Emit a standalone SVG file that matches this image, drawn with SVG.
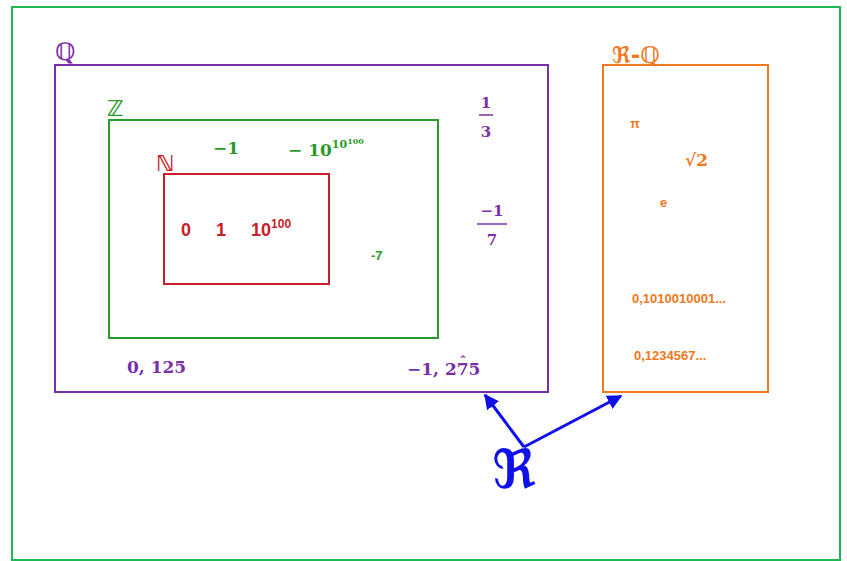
<svg xmlns="http://www.w3.org/2000/svg" width="847" height="561" viewBox="0 0 847 561">
<style>
.math{font-family:"DejaVu Serif","Liberation Serif",serif;font-weight:bold}
.sans{font-family:"Liberation Sans",Arial,sans-serif;font-weight:bold}
.ds{font-family:"DejaVu Sans","Noto Sans",sans-serif}
.purple{fill:#7a2ea8}.green{fill:#2a9a2a}.red{fill:#c8202a}.orange{fill:#f07820}
</style>
<defs>
<marker id="ah" viewBox="0 0 10 10" refX="9" refY="5" markerWidth="5" markerHeight="5" orient="auto"><path d="M0,0 L10,5 L0,10 z" fill="#1010e8"/></marker>
</defs>
<rect x="12" y="7" width="828" height="553" fill="#fff" stroke="#1db954" stroke-width="2"/>
<g id="Q">
<rect x="55" y="65" width="493" height="327" fill="none" stroke="#7a2ea8" stroke-width="2"/>
<text x="55" y="60" class="ds purple" font-size="24" font-weight="bold">ℚ</text>
<text x="486" y="108" class="math purple" font-size="15" text-anchor="middle">1</text>
<line x1="479" y1="115" x2="493" y2="115" stroke="#7a2ea8" stroke-width="1.5"/>
<text x="486" y="137" class="math purple" font-size="15" text-anchor="middle">3</text>
<text x="492" y="216" class="math purple" font-size="15" text-anchor="middle">−1</text>
<line x1="477" y1="224" x2="507" y2="224" stroke="#7a2ea8" stroke-width="1.5"/>
<text x="492" y="245" class="math purple" font-size="15" text-anchor="middle">7</text>
<text x="127" y="373" class="math purple" font-size="17">0, 125</text>
<text x="407" y="375" class="math purple" font-size="17">−1, 275</text>
<text x="463" y="366" class="math purple" font-size="13" text-anchor="middle">ˆ</text>
</g>
<g id="Z">
<rect x="109" y="120" width="329" height="218" fill="none" stroke="#2a9a2a" stroke-width="2"/>
<text x="107" y="116" class="ds green" font-size="22" font-weight="bold">ℤ</text>
<text x="213" y="154" class="math green" font-size="17">−1</text>
<text x="288" y="156" class="math green" font-size="17">− 10<tspan dy="-8" font-size="11">10</tspan><tspan dy="-4" font-size="8">100</tspan></text>
<text x="371" y="260" class="sans green" font-size="13">-7</text>
</g>
<g id="N">
<rect x="164" y="174" width="165" height="110" fill="none" stroke="#c8202a" stroke-width="2"/>
<text x="156" y="171" class="ds red" font-size="22" font-weight="bold">ℕ</text>
<text x="181" y="236" class="sans red" font-size="18">0</text>
<text x="216" y="236" class="sans red" font-size="18">1</text>
<text x="251" y="236" class="sans red" font-size="18">10<tspan dy="-8" font-size="12">100</tspan></text>
</g>
<g id="RQ">
<rect x="603" y="65" width="165" height="327" fill="none" stroke="#f07820" stroke-width="2"/>
<text x="612" y="63" class="ds orange" font-size="23" font-weight="bold">ℜ-ℚ</text>
<text x="630" y="128" class="sans orange" font-size="13">π</text>
<text x="685" y="166" class="math orange" font-size="17">√2</text>
<text x="660" y="207" class="sans orange" font-size="13">e</text>
<text x="632" y="303" class="sans orange" font-size="13">0,1010010001...</text>
<text x="634" y="360" class="sans orange" font-size="13">0,1234567...</text>
</g>
<g id="R">
<text x="492" y="488" class="ds" font-size="54" font-weight="bold" fill="#1010e8">ℜ</text>
</g>
<g id="connectors" stroke="#1010e8" stroke-width="3" fill="none">
<path d="M524,447 L485,395" marker-end="url(#ah)"/>
<path d="M524,447 L621,396" marker-end="url(#ah)"/>
</g>
</svg>
